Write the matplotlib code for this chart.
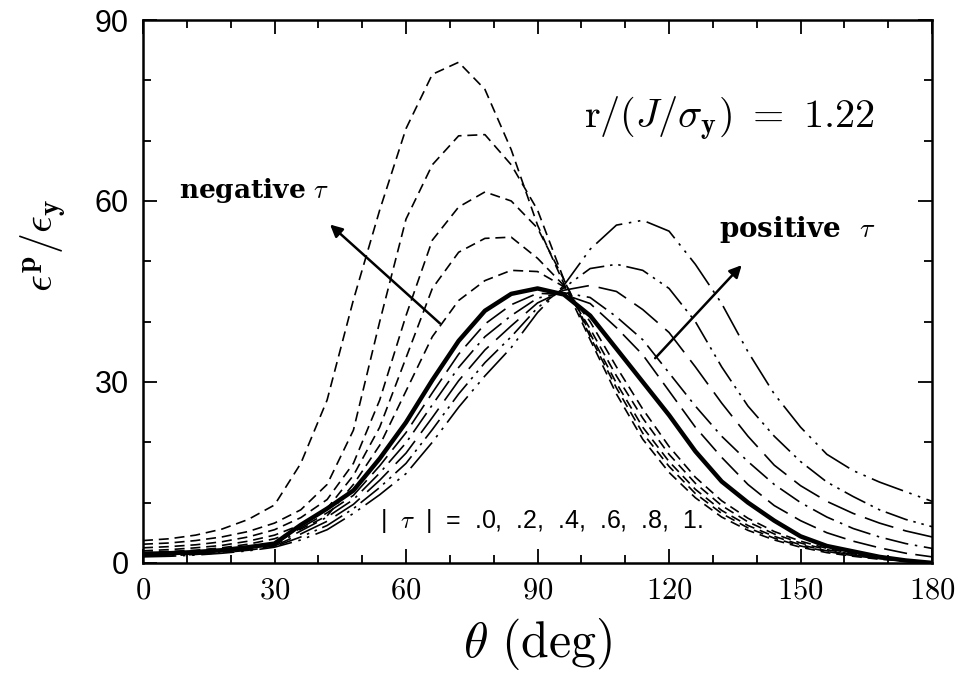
import matplotlib
matplotlib.use("Agg")
import matplotlib.pyplot as plt
import numpy as np

plt.rcParams['mathtext.fontset'] = 'cm'

# angle grid (deg)
theta = np.arange(0, 181, 6)

# plastic strain / yield strain for each value of tau
eps_neg = {
    -1.0: [3.7, 4.0, 4.6, 5.6, 7.2, 9.6, 16.5, 27.0, 43.6, 58.5, 72.0, 81.0, 83.0, 78.5, 68.5, 56.0,
           46.3, 37.0, 28.0, 20.5, 15.0, 10.8, 7.6, 5.4, 3.8, 2.6, 1.7, 1.1, 0.6, 0.3, 0.1],
    -0.8: [3.1, 3.3, 3.7, 4.3, 5.2, 6.6, 8.8, 13.0, 22.0, 40.0, 57.0, 66.0, 70.8, 71.0, 66.0, 58.5,
           47.0, 37.5, 29.0, 21.5, 16.0, 11.5, 8.2, 5.8, 4.1, 2.8, 1.9, 1.2, 0.7, 0.3, 0.1],
    -0.6: [2.5, 2.7, 3.0, 3.5, 4.3, 5.5, 7.5, 10.5, 16.5, 27.0, 41.0, 53.5, 59.0, 61.5, 60.0, 55.5,
           47.0, 38.0, 29.8, 22.5, 16.8, 12.2, 8.7, 6.2, 4.4, 3.0, 2.0, 1.3, 0.8, 0.4, 0.1],
    -0.4: [2.0, 2.2, 2.5, 2.9, 3.6, 4.6, 6.3, 9.0, 14.5, 22.5, 34.0, 45.5, 51.5, 53.8, 54.0, 50.5,
           46.0, 38.8, 31.0, 24.0, 18.0, 13.2, 9.5, 6.8, 4.8, 3.3, 2.2, 1.4, 0.8, 0.4, 0.1],
    -0.2: [1.7, 1.9, 2.1, 2.5, 3.1, 4.0, 5.6, 7.8, 13.0, 19.5, 28.5, 37.5, 43.5, 46.8, 48.5, 48.3,
           45.8, 40.0, 32.5, 25.5, 19.3, 14.2, 10.3, 7.4, 5.2, 3.6, 2.4, 1.5, 0.9, 0.4, 0.1],
}
eps_zero = [1.5, 1.6, 1.8, 2.1, 2.6, 3.2, 6.3, 9.0, 12.0, 17.3, 23.3, 30.3, 36.8, 41.8, 44.6, 45.5,
            44.5, 41.0, 35.5, 30.0, 24.5, 18.5, 13.5, 10.0, 7.0, 4.4, 2.8, 1.9, 1.0, 0.4, 0.0]
eps_pos = {
    0.2: [1.4, 1.5, 1.7, 2.0, 2.5, 3.1, 5.8, 8.3, 11.2, 16.1, 21.6, 28.2, 34.6, 39.6, 42.8, 44.7,
          44.5, 43.0, 39.0, 34.5, 28.5, 22.5, 17.5, 13.0, 9.5, 7.0, 5.0, 3.6, 2.5, 1.6, 1.0],
    0.4: [1.3, 1.4, 1.6, 1.9, 2.4, 3.0, 5.3, 7.6, 10.5, 14.9, 19.9, 26.2, 32.4, 37.5, 41.0, 43.9,
          44.8, 44.0, 40.8, 37.0, 31.5, 26.0, 21.0, 16.8, 13.0, 10.0, 7.6, 5.7, 4.3, 3.2, 2.4],
    0.6: [1.2, 1.3, 1.5, 1.8, 2.2, 2.8, 4.8, 6.9, 9.7, 13.7, 18.2, 24.1, 30.2, 35.3, 39.3, 43.1,
          45.2, 46.0, 45.0, 42.0, 38.2, 32.5, 26.5, 21.0, 16.2, 12.8, 10.2, 8.2, 6.6, 5.3, 4.3],
    0.8: [1.1, 1.2, 1.4, 1.7, 2.1, 2.7, 4.3, 6.2, 9.0, 12.5, 16.5, 22.1, 28.0, 33.2, 37.5, 42.3,
          45.6, 48.8, 49.5, 48.5, 45.5, 40.0, 32.5, 26.0, 21.0, 16.8, 13.4, 11.0, 8.8, 7.2, 6.0],
    1.0: [1.0, 1.1, 1.3, 1.6, 2.0, 2.6, 3.8, 5.5, 8.2, 11.3, 14.8, 20.0, 25.8, 31.0, 35.7, 41.5,
          46.0, 52.0, 56.0, 56.8, 55.0, 49.5, 43.0, 35.0, 28.0, 22.5, 18.0, 15.3, 13.4, 11.8, 10.2],
}

pos_styles = {
    0.2: (0, (14, 5)),
    0.4: (0, (14, 4, 1.5, 4)),
    0.6: (0, (18, 6)),
    0.8: (0, (14, 3.5, 1.5, 3.5, 1.5, 3.5)),
    1.0: (0, (20, 4, 1.5, 4, 1.5, 4)),
}

fig = plt.figure(figsize=(9.76, 6.79), dpi=100)
ax = fig.add_axes([0.1465, 0.171, 0.8085, 0.7995])

for tau, vals in eps_neg.items():
    ax.plot(theta, vals, color='black', lw=1.2, linestyle=(0, (6, 3.5)))
for tau, vals in eps_pos.items():
    ax.plot(theta, vals, color='black', lw=1.2, linestyle=pos_styles[tau])
ax.plot(theta, eps_zero, color='black', lw=3.2, solid_joinstyle='round')

ax.set_xlim(0, 180)
ax.set_ylim(0, 90)
ax.set_xticks(np.arange(0, 181, 30))
ax.set_xticks(np.arange(0, 181, 10), minor=True)
ax.set_yticks(np.arange(0, 91, 30))
ax.set_yticks(np.arange(0, 91, 10), minor=True)
ax.tick_params(which='both', direction='in', top=True, right=True, width=1.3)
ax.tick_params(which='major', length=10, pad=8)
ax.tick_params(axis='x', which='major', labelsize=22, pad=9)
ax.tick_params(axis='y', which='major', labelsize=22, pad=10)
ax.tick_params(which='minor', length=6)
ax.xaxis.set_major_formatter(matplotlib.ticker.FuncFormatter(lambda v, p: f"${v:g}$"))
for lab in ax.get_yticklabels():
    lab.set_fontfamily('Liberation Sans')
for s in ax.spines.values():
    s.set_linewidth(1.8)

ax.set_xlabel(r'$\theta\ \mathrm{(deg)}$', fontsize=36, labelpad=8)
ax.set_ylabel(r'$\epsilon^{\mathbf{p}}/\epsilon_{\mathbf{y}}$', fontsize=30)
ax.yaxis.set_label_coords(-0.095, 0.585)

ax.text(100.5, 73.6, r'$\mathrm{r}/(J/\sigma_{\mathbf{y}})\ =\ 1.22$', fontsize=29, va='center')
ax.text(8.3, 61.8, r'negative $\tau$', fontsize=19, fontweight='bold', fontfamily='DejaVu Serif',
        va='center')
ax.text(131.5, 55.2, r'positive  $\tau$', fontsize=20, fontweight='bold', fontfamily='DejaVu Serif',
        va='center')
ax.text(54.0, 6.9, r'|  $\tau$  |  =  .0,  .2,  .4,  .6,  .8,  1.', fontsize=18,
        fontfamily='Liberation Sans', va='center')

ax.annotate('', xy=(42.2, 56.4), xytext=(68.2, 39.4),
            arrowprops=dict(arrowstyle='-|>', color='black', lw=1.8, mutation_scale=18))
ax.annotate('', xy=(137.0, 49.7), xytext=(116.4, 33.6),
            arrowprops=dict(arrowstyle='-|>', color='black', lw=1.8, mutation_scale=18))

fig.savefig('out.png', dpi=100)
